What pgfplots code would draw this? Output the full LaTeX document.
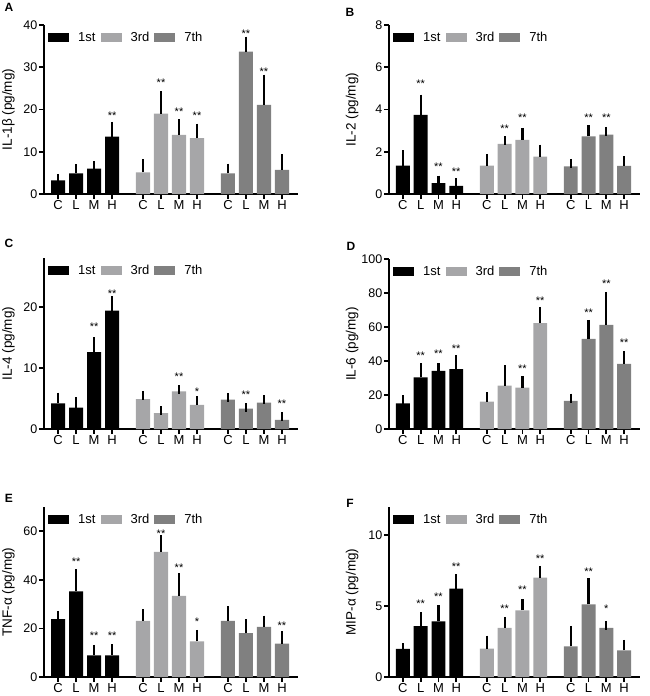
\documentclass[border=0pt]{standalone}
\usepackage{fontspec}
\setmainfont{Liberation Sans}
\usepackage{pgfplots}
\pgfplotsset{compat=1.18}
\definecolor{cA}{HTML}{000000}
\definecolor{cB}{HTML}{A6A6A8}
\definecolor{cC}{HTML}{808080}
\pgfplotsset{
 panel/.style={scale only axis, axis lines*=left, axis line style={line width=2pt},
   xmin=-0.78, xmax=13.33, ymin=0, enlargelimits=false, clip=false,
   xtick={0,1,2,3,4.72,5.72,6.72,7.72,9.44,10.44,11.44,12.44},
   xticklabels={C,L,M,H,C,L,M,H,C,L,M,H},
   tick align=outside, major tick length=5pt, tick style={line width=1.8pt, black},
   /pgf/number format/assume math mode=true,
   xticklabel style={font=\fontsize{13}{13}\selectfont, inner sep=1.5pt},
   yticklabel style={font=\fontsize{12.5}{13}\selectfont, inner sep=1.5pt},
   ylabel style={font=\fontsize{13.5}{14}\selectfont, at={(axis description cs:-0.14,0.5)}, anchor=center},
   legend style={draw=none, fill=none, at={(axis description cs:0,1)}, anchor=north west, xshift=1pt, yshift=-3pt,
     legend columns=3, font=\fontsize{13}{13}\selectfont,
     /tikz/every odd column/.append style={column sep=7pt},
     /tikz/every even column/.append style={column sep=3pt}},
   legend cell align=left},
 bars/.style={ybar, bar width=0.78, bar shift=0pt, draw=none, fill=#1,
   legend image code/.code={\fill[#1] (0pt,-4pt) rectangle (21pt,4.5pt);},
   error bars/y dir=plus, error bars/y explicit,
   error bars/error mark options={draw=black, line width=2.2pt, mark size=4.5pt},
   error bars/error bar style={draw=black, line width=2.2pt}},
 stars/.style={draw=none, mark=none, forget plot, nodes near coords, point meta=explicit symbolic,
   nodes near coords style={font=\fontsize{11}{11}\selectfont, anchor=center, yshift=-2pt, inner sep=0pt, text=black}},
}
\begin{document}
\begin{tikzpicture}
\useasboundingbox (0,0) rectangle (649pt,-696pt);
% ---------- A ----------
\begin{axis}[panel, at={(44pt,-194pt)}, anchor=south west, width=254pt, height=169pt,
  ymax=40, ytick={0,10,20,30,40}, ylabel={IL-1β (pg/mg)}]
\addplot[bars=cA] coordinates {(0,3.2) +- (0,0.5) (1,4.9) +- (0,1.1) (2,6.0) +- (0,0.7) (3,13.6) +- (0,2.4)};
\addplot[bars=cB] coordinates {(4.72,5.1) +- (0,2.1) (5.72,19.0) +- (0,4.3) (6.72,14.0) +- (0,2.6) (7.72,13.2) +- (0,2.4)};
\addplot[bars=cC] coordinates {(9.44,4.9) +- (0,1.2) (10.44,33.7) +- (0,2.5) (11.44,21.1) +- (0,6.1) (12.44,5.7) +- (0,2.6)};
\addplot[stars] coordinates {(3,19.1) [**] (5.72,26.8) [**] (6.72,19.9) [**] (7.72,19.1) [**] (10.44,38.3) [**] (11.44,29.5) [**]};
\legend{1st,3rd,7th}
\end{axis}
% ---------- B ----------
\begin{axis}[panel, at={(389pt,-194pt)}, anchor=south west, width=251pt, height=169pt,
  ymax=8, ytick={0,2,4,6,8}, ylabel={IL-2 (pg/mg)}, ylabel style={at={(axis description cs:-0.147,0.5)}}]
\addplot[bars=cA] coordinates {(0,1.34) +- (0,0.52) (1,3.75) +- (0,0.74) (2,0.51) +- (0,0.15) (3,0.39) +- (0,0.15)};
\addplot[bars=cB] coordinates {(4.72,1.34) +- (0,0.35) (5.72,2.37) +- (0,0.16) (6.72,2.56) +- (0,0.36) (7.72,1.77) +- (0,0.36)};
\addplot[bars=cC] coordinates {(9.44,1.31) +- (0,0.14) (10.44,2.73) +- (0,0.3) (11.44,2.81) +- (0,0.16) (12.44,1.33) +- (0,0.25)};
\addplot[stars] coordinates {(1,5.3) [**] (2,1.41) [**] (3,1.17) [**] (5.72,3.2) [**] (6.72,3.71) [**] (10.44,3.71) [**] (11.44,3.71) [**]};
\legend{1st,3rd,7th}
\end{axis}
% ---------- C ----------
\begin{axis}[panel, at={(44pt,-429pt)}, anchor=south west, width=254pt, height=171pt,
  ymax=28, ytick={0,10,20}, ylabel={IL-4 (pg/mg)}]
\addplot[bars=cA] coordinates {(0,4.2) +- (0,1.0) (1,3.5) +- (0,1.0) (2,12.6) +- (0,1.7) (3,19.4) +- (0,1.6)};
\addplot[bars=cB] coordinates {(4.72,4.9) +- (0,0.6) (5.72,2.6) +- (0,0.4) (6.72,6.15) +- (0,0.25) (7.72,3.95) +- (0,0.65)};
\addplot[bars=cC] coordinates {(9.44,4.8) +- (0,0.3) (10.44,3.35) +- (0,0.15) (11.44,4.3) +- (0,0.5) (12.44,1.5) +- (0,0.5)};
\addplot[stars] coordinates {(2,17) [**] (3,22.4) [**] (6.72,8.9) [**] (7.72,6.5) [*] (10.44,6.0) [**] (12.44,4.5) [**]};
\legend{1st,3rd,7th}
\end{axis}
% ---------- D ----------
\begin{axis}[panel, at={(389pt,-429pt)}, anchor=south west, width=251pt, height=170pt,
  ymax=100, ytick={0,20,40,60,80,100}, ylabel={IL-6 (pg/mg)}, ylabel style={at={(axis description cs:-0.147,0.5)}}]
\addplot[bars=cA] coordinates {(0,15.1) +- (0,2) (1,30.3) +- (0,5.8) (2,34.2) +- (0,1.9) (3,35.2) +- (0,5.5)};
\addplot[bars=cB] coordinates {(4.72,16.1) +- (0,3) (5.72,25.5) +- (0,9.3) (6.72,24.4) +- (0,4.1) (7.72,62.3) +- (0,6.9)};
\addplot[bars=cC] coordinates {(9.44,16.5) +- (0,1.6) (10.44,53.0) +- (0,8.5) (11.44,61.3) +- (0,16.7) (12.44,38.3) +- (0,4.7)};
\addplot[stars] coordinates {(1,44) [**] (2,45.2) [**] (3,48.5) [**] (6.72,36.7) [**] (7.72,76.4) [**] (10.44,69.5) [**] (11.44,86.4) [**] (12.44,51.9) [**]};
\legend{1st,3rd,7th}
\end{axis}
% ---------- E ----------
\begin{axis}[panel, at={(44pt,-677pt)}, anchor=south west, width=254pt, height=170pt,
  ymax=70, ytick={0,20,40,60}, ylabel={TNF-α (pg/mg)}]
\addplot[bars=cA] coordinates {(0,23.8) +- (0,1.6) (1,35.3) +- (0,7.3) (2,8.9) +- (0,2.5) (3,8.9) +- (0,2.8)};
\addplot[bars=cB] coordinates {(4.72,23.1) +- (0,3) (5.72,51.5) +- (0,5.2) (6.72,33.4) +- (0,7.4) (7.72,14.7) +- (0,2.9)};
\addplot[bars=cC] coordinates {(9.44,23.1) +- (0,4.1) (10.44,18.1) +- (0,3.9) (11.44,20.6) +- (0,2.8) (12.44,13.7) +- (0,3.2)};
\addplot[stars] coordinates {(1,48.5) [**] (2,17.9) [**] (3,17.9) [**] (5.72,60) [**] (6.72,46) [**] (7.72,23.6) [*] (12.44,22) [**]};
\legend{1st,3rd,7th}
\end{axis}
% ---------- F ----------
\begin{axis}[panel, at={(389pt,-677pt)}, anchor=south west, width=251pt, height=170pt,
  ymax=12, ytick={0,5,10}, ylabel={MIP-α (pg/mg)}, ylabel style={at={(axis description cs:-0.147,0.5)}}]
\addplot[bars=cA] coordinates {(0,1.98) +- (0,0.09) (1,3.6) +- (0,0.64) (2,3.93) +- (0,0.82) (3,6.24) +- (0,0.68)};
\addplot[bars=cB] coordinates {(4.72,2.0) +- (0,0.6) (5.72,3.46) +- (0,0.47) (6.72,4.7) +- (0,0.48) (7.72,7.01) +- (0,0.52)};
\addplot[bars=cC] coordinates {(9.44,2.16) +- (0,1.14) (10.44,5.13) +- (0,1.51) (11.44,3.46) +- (0,0.19) (12.44,1.88) +- (0,0.42)};
\addplot[stars] coordinates {(1,5.34) [**] (2,5.8) [**] (3,7.93) [**] (5.72,4.94) [**] (6.72,6.28) [**] (7.72,8.47) [**] (10.44,7.58) [**] (11.44,4.94) [*]};
\legend{1st,3rd,7th}
\end{axis}
% panel letters
\node[font=\bfseries\fontsize{12}{12}\selectfont] at (9pt,-7pt) {A};
\node[font=\bfseries\fontsize{12}{12}\selectfont] at (350pt,-12pt) {B};
\node[font=\bfseries\fontsize{12}{12}\selectfont] at (9pt,-243pt) {C};
\node[font=\bfseries\fontsize{12}{12}\selectfont] at (351pt,-246pt) {D};
\node[font=\bfseries\fontsize{12}{12}\selectfont] at (9pt,-498pt) {E};
\node[font=\bfseries\fontsize{12}{12}\selectfont] at (350pt,-503pt) {F};
\end{tikzpicture}
\end{document}
